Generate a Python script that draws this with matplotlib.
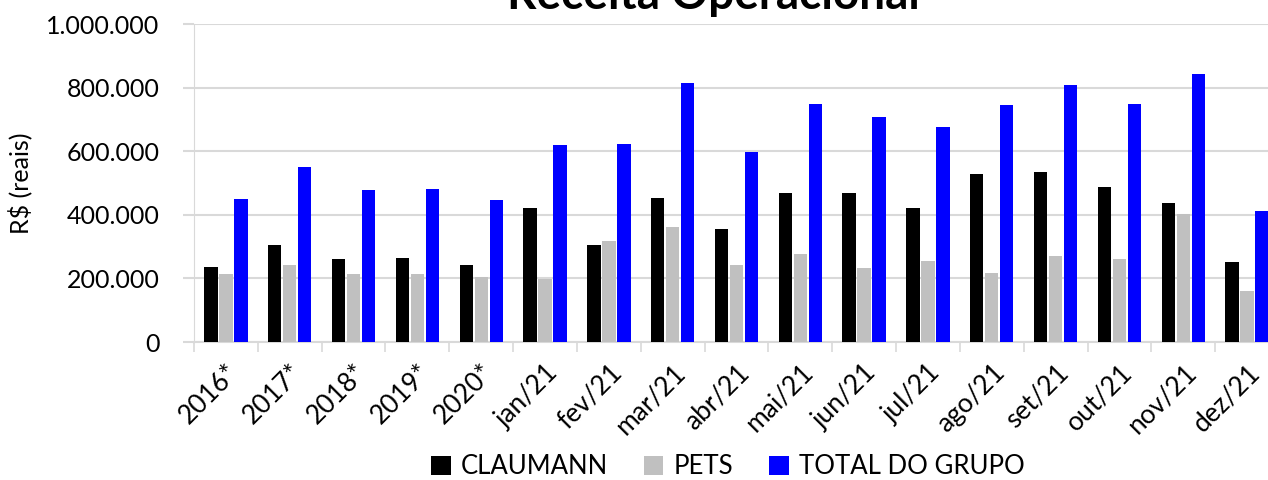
import matplotlib.pyplot as plt
import matplotlib
import numpy as np
from matplotlib.ticker import FuncFormatter

matplotlib.rcParams['font.family'] = ['Lato', 'DejaVu Sans']

categorias = ['2016*', '2017*', '2018*', '2019*', '2020*', 'jan/21', 'fev/21', 'mar/21',
              'abr/21', 'mai/21', 'jun/21', 'jul/21', 'ago/21', 'set/21', 'out/21',
              'nov/21', 'dez/21']
claumann = [236000, 306000, 262000, 265000, 243000, 421000, 305000, 453000, 356000,
            470000, 470000, 421000, 528000, 535000, 486000, 438000, 251000]
pets = [213000, 243000, 214000, 214000, 203000, 198000, 317000, 361000, 243000,
        277000, 234000, 254000, 217000, 271000, 260000, 404000, 159000]
total = [451000, 550000, 477000, 482000, 446000, 618000, 622000, 814000, 599000,
         748000, 706000, 676000, 745000, 807000, 747000, 842000, 411000]

fig = plt.figure(figsize=(12.68, 4.8), dpi=100)
ax = fig.add_axes([194/1268, 1 - 342/480, (1279 - 194)/1268, (342 - 24)/480])

x = np.arange(len(categorias))
w = 0.21
off = 0.235
ax.bar(x - off, claumann, w, color='black', label='CLAUMANN', zorder=3)
ax.bar(x, pets, w, color='#C0C0C0', label='PETS', zorder=3)
ax.bar(x + off, total, w, color='#0000FF', label='TOTAL DO GRUPO', zorder=3)

ax.set_xlim(-0.5, len(categorias) - 0.5)
ax.set_ylim(0, 1000000)
ax.set_yticks(np.arange(0, 1000001, 200000))
ax.yaxis.set_major_formatter(FuncFormatter(lambda v, p: f'{int(v):,}'.replace(',', '.')))
ax.grid(axis='y', color='#D9D9D9', linewidth=1.5, zorder=0)

for s in ['top', 'right']:
    ax.spines[s].set_visible(False)
ax.spines['left'].set_color('#D9D9D9')
ax.spines['bottom'].set_color('#D9D9D9')
ax.spines['bottom'].set_linewidth(1.5)

ax.set_xticks(x)
ax.set_xticklabels(categorias, rotation=45, ha='right', rotation_mode='anchor', fontsize=19)
ax.tick_params(axis='x', length=0, pad=13)
ax.set_xticks(np.arange(-0.5, len(categorias), 1), minor=True)
ax.tick_params(axis='x', which='minor', length=7, color='#D9D9D9', width=1.2)
ax.tick_params(axis='y', length=8, color='#D9D9D9', width=1.5, labelsize=18, pad=17)

ax.set_ylabel('R$ (reais)', fontsize=18, labelpad=10)

fig.text(713/1268, 1 - 9/480, 'Receita Operacional', ha='center', va='baseline',
         fontsize=33, fontweight='bold')

fig.legend(loc='center', bbox_to_anchor=(728/1268, 1 - 467/480), ncol=3, frameon=False,
           fontsize=18.5, handlelength=0.75, handleheight=0.75, handletextpad=0.4,
           columnspacing=1.4)

fig.savefig('out.png', dpi=100)
